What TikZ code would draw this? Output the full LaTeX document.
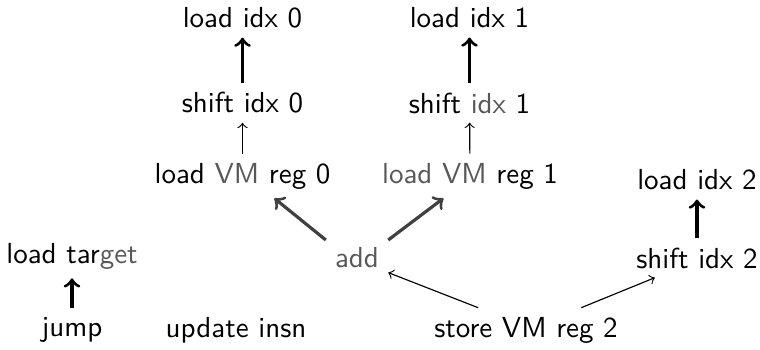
\documentclass[tikz,border=0pt]{standalone}
\usepackage{tikz}
\usepackage{xcolor}
\definecolor{dimtext}{RGB}{88,88,88}
\newcommand{\faded}[1]{\textcolor{dimtext}{#1}}

\begin{document}
\begin{tikzpicture}[
  x=0.345pt, y=-0.345pt,
  font=\sffamily,
  >=to,
  op/.style={inner sep=3pt},
  dep/.style={->,thin},
  strong/.style={->,line width=1.1pt},
  strongdim/.style={strong,black!75}
]
  \useasboundingbox (0,0) rectangle (760,349);

  \node[op] (lidx0) at (242.5,18) {load idx 0};
  \node[op] (sidx0) at (242.5,103) {shift idx 0};
  \node[op] (lvm0) at (242.5,176) {load \faded{VM} reg 0};

  \node[op] (lidx1) at (469.5,18) {load idx 1};
  \node[op] (sidx1) at (469.5,103) {shift \faded{idx} 1};
  \node[op] (lvm1) at (470,176) {\faded{load VM} reg 1};

  \node[op] (lidx2) at (697,180) {load idx 2};
  \node[op] (sidx2) at (697,258) {shift idx 2};

  \node[op] (ltarget) at (72,256) {load tar\faded{get}};
  \node[op] (jump) at (72,330) {jump};
  \node[op] (update) at (236,330) {update insn};
  \node[op] (add) at (357,258) {\faded{add}};
  \node[op] (svm2) at (526,330) {store VM reg 2};

  \draw[strong] (sidx0) -- (lidx0);
  \draw[dep] (lvm0) -- (sidx0);
  \draw[strong] (sidx1) -- (lidx1);
  \draw[dep] (lvm1) -- (sidx1);
  \draw[strong] (sidx2) -- (lidx2);
  \draw[strong] (jump) -- (ltarget);

  \draw[strongdim] (add.150) -- (lvm0.-35);
  \draw[strongdim] (add.30) -- (lvm1.-140);
  \draw[dep] (svm2.155) -- (add.-25);
  \draw[dep] (svm2.22) -- (sidx2.205);
\end{tikzpicture}
\end{document}
